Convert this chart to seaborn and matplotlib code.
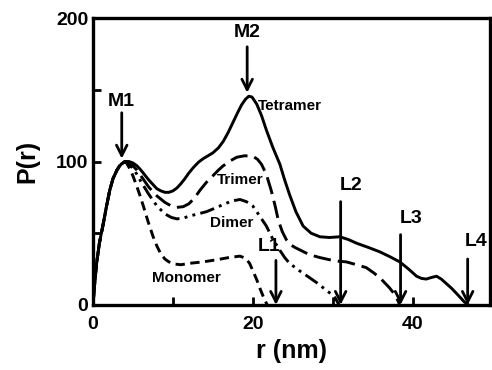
import matplotlib
matplotlib.use("Agg")
import matplotlib.pyplot as plt
import seaborn as sns
import pandas as pd

# P(r) curves
r_tet = [0, 0.2, 0.45, 0.8, 1.3, 1.7, 2.1, 2.5, 3.0, 3.5, 4.0, 4.5, 5.0, 5.5, 6.0, 6.5, 7.0,
         7.5, 8.0, 8.5, 9.0, 9.5, 10.0, 10.5, 11.0, 11.5, 12.0, 12.6, 13.2, 13.8, 14.4,
         15.0, 15.7, 16.3, 16.9, 17.5, 18.1, 18.6, 19.1, 19.5, 19.9, 20.5, 21.1, 21.7,
         22.5, 23.4, 24.0, 24.6, 25.4, 26.3, 27.3, 28.4, 29.6, 30.9, 32.0, 33.0, 34.5,
         35.9, 37.2, 38.4, 39.5, 40.5, 41.1, 41.7, 42.3, 43.0, 43.6, 44.2, 44.9, 45.5,
         46.0, 46.5, 47.0]
p_tet = [0, 14, 29, 43, 57, 69, 80, 88, 94, 98, 100, 100, 99, 97, 94, 90.5, 87,
         84, 81, 79.5, 78.5, 78.5, 79.5, 81.5, 84.5, 88, 92, 96, 99.5, 102, 104,
         106, 109.5, 114, 120, 127, 134, 139.5, 143.5, 145.5, 145, 140, 132, 122,
         110, 98, 87, 77, 65, 55, 50, 47.5, 47, 47.5, 45.5, 43, 40,
         37, 33.5, 30, 25, 20, 18.5, 18, 19, 20, 18, 15, 11.5, 8,
         5, 2, 0]

r_tri = [0, 0.2, 0.45, 0.8, 1.3, 1.7, 2.1, 2.5, 3.0, 3.5, 4.0, 4.5, 5.0, 5.5, 6.0, 7.0,
         8.0, 9.0, 9.8, 10.5, 11.3, 12.0, 12.7, 13.4, 14.2, 15.0, 15.7, 16.3, 17.2,
         18.0, 19.0, 20.0, 20.6, 21.1, 21.7, 22.3, 22.8, 23.2, 23.7, 24.2, 24.7, 25.3,
         26.2, 27.1, 28.4, 29.6, 30.7, 31.7, 33.0, 34.2, 35.1, 35.9, 36.5, 37.1, 37.6,
         38.0, 38.4]
p_tri = [0, 14, 29, 43, 57, 69, 80, 88, 94, 98, 100, 99, 97, 94, 90, 82,
         76, 71.5, 69, 68, 68.5, 70.5, 74.5, 80, 85.5, 90, 94, 97, 100.5,
         103, 104, 103.7, 101.5, 98, 91, 80, 69, 59, 51, 45.5, 42, 40,
         37.5, 35, 33, 31.5, 30.5, 30, 28, 26, 22.5, 19, 15.5, 12, 8.5,
         5, 0]

r_dim = [0, 0.2, 0.45, 0.8, 1.3, 1.7, 2.1, 2.5, 3.0, 3.5, 4.0, 4.5, 5.0, 5.5, 6.0, 7.0,
         8.0, 9.0, 9.8, 10.5, 11.3, 12.1, 13.2, 14.2, 15.3, 16.3, 17.4, 18.4, 19.2,
         20.0, 20.8, 21.7, 22.5, 23.4, 24.0, 24.6, 25.8, 27.1, 28.0, 28.8, 29.6, 30.3,
         30.8]
p_dim = [0, 14, 29, 43, 57, 69, 80, 88, 94, 98, 100, 98.5, 95, 91, 86, 77,
         69, 63.5, 61, 60, 60.5, 62, 63.5, 65, 67.5, 70, 72.5, 73.5, 72,
         69, 62.5, 55, 46, 38, 33, 29, 24, 19, 15.5, 12, 8.5, 5,
         0]

r_mon = [0, 0.2, 0.45, 0.8, 1.3, 1.7, 2.1, 2.5, 3.0, 3.4, 3.8, 4.2, 4.6, 5.0, 5.4, 5.9,
         6.3, 6.9, 7.5, 8.0, 8.5, 9.0, 9.5, 10.2, 11.0, 12.1, 13.8, 15.5, 17.0, 18.4,
         19.1, 19.6, 20.0, 20.5, 20.9, 21.3, 21.8]
p_mon = [0, 14, 29, 43, 57, 69, 80, 88, 94, 98, 100, 99, 95, 90, 84, 76,
         69, 58, 48, 41, 35.5, 32, 30, 28.5, 28, 29, 30, 31.5, 33, 34,
         32.5, 29, 24, 17.5, 11.5, 6, 0]

# arrow annotations: label, x, text y, arrow start y, arrow tip y
arrow_labels = ["M1", "M2", "L1", "L2", "L3", "L4"]
arrow_x = [3.6, 19.3, 22.9, 31.0, 38.5, 46.9]
arrow_text_x = [3.6, 19.3, 22.0, 32.3, 39.8, 48.0]
arrow_text_y = [136, 184, 35, 77, 54, 38]
arrow_from = [134, 180, 31, 72, 49, 32]
arrow_to = [102, 148, 0, 0, 0, 0]

curve_labels = ["Tetramer", "Trimer", "Dimer", "Monomer"]
curve_lx = [24.6, 18.4, 17.3, 11.7]
curve_ly = [139, 87, 57, 19]

sns.set_style("ticks")
plt.rcParams["font.family"] = ["Liberation Sans", "DejaVu Sans"]
plt.rcParams["font.weight"] = "bold"
plt.rcParams["text.color"] = "black"
plt.rcParams["axes.labelcolor"] = "black"
plt.rcParams["axes.edgecolor"] = "black"
plt.rcParams["xtick.color"] = "black"
plt.rcParams["ytick.color"] = "black"

fig = plt.figure(figsize=(4.92, 3.70), dpi=100)
ax = fig.add_axes([0.189, 0.176, 0.807, 0.775])

series = [
    (r_tet, p_tet, None),
    (r_tri, p_tri, (6.0, 2.4)),
    (r_dim, p_dim, (5.0, 1.8, 1.0, 1.8, 1.0, 1.8)),
    (r_mon, p_mon, (3.2, 1.9)),
]
for r, p, dash in series:
    df = pd.DataFrame({"r": r, "P": p})
    sns.lineplot(data=df, x="r", y="P", ax=ax, color="black", linewidth=2.1,
                 estimator=None, sort=False)
    if dash is not None:
        ax.lines[-1].set_dashes(dash)

for lab, x, tx, ty, y0, y1 in zip(arrow_labels, arrow_x, arrow_text_x,
                                  arrow_text_y, arrow_from, arrow_to):
    ax.annotate("", xy=(x, y1), xytext=(x, y0),
                arrowprops=dict(arrowstyle="->,head_length=0.75,head_width=0.38",
                                color="black", lw=2.0, shrinkA=0, shrinkB=0))
    ax.text(tx, ty, lab, ha="center", va="bottom", fontsize=14, fontweight="bold")

for lab, x, y in zip(curve_labels, curve_lx, curve_ly):
    ax.text(x, y, lab, ha="center", va="center", fontsize=11, fontweight="bold")

ax.set_xlim(0, 49.7)
ax.set_ylim(0, 200)
ax.set_xticks([0, 20, 40])
ax.set_xticks([10, 30], minor=True)
ax.set_yticks([0, 100, 200])
ax.set_yticks([50, 150], minor=True)
ax.tick_params(which="both", direction="in", length=6, width=2, labelsize=14)
ax.tick_params(axis="x", pad=8)
for s in ax.spines.values():
    s.set_linewidth(2.4)
for t in ax.get_xticklabels() + ax.get_yticklabels():
    t.set_fontweight("bold")
ax.set_xlabel("r (nm)", fontsize=18, fontweight="bold", labelpad=4)
ax.set_ylabel("P(r)", fontsize=18, fontweight="bold", labelpad=12)

fig.savefig("out.png", dpi=100)
